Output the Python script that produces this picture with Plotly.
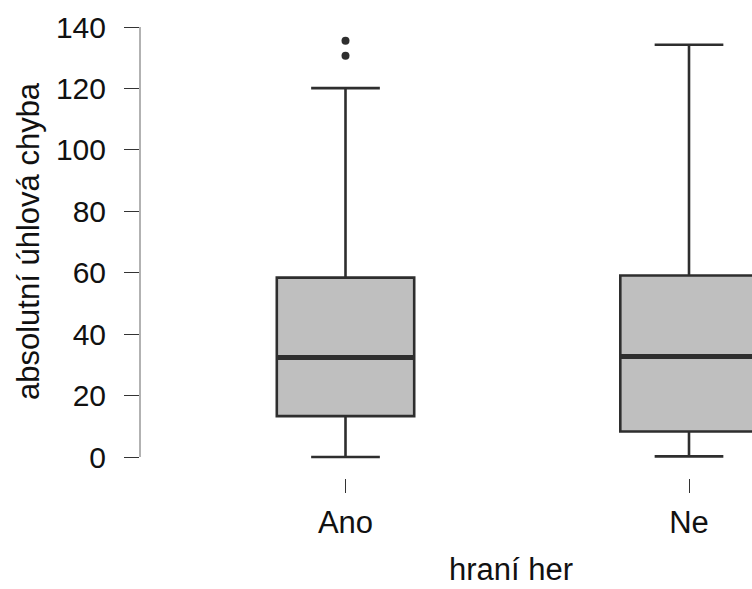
import plotly.graph_objects as go

categories = ["Ano", "Ne"]
positions = [1, 2]
q1 = [13.3, 8.3]
median = [32.4, 32.7]
q3 = [58.4, 59.1]
lower_whisker = [0.0, 0.2]
upper_whisker = [120.1, 134.2]
outlier_x = [1, 1]
outlier_y = [135.5, 130.6]
y_ticks = [0, 20, 40, 60, 80, 100, 120, 140]

BOX_W = 0.4
FONT = "Liberation Sans, Arial, sans-serif"
DARK = "#2e2e2e"

fig = go.Figure()
for i, c in enumerate(categories):
    fig.add_trace(go.Box(
        x=[positions[i]], q1=[q1[i]], median=[median[i]], q3=[q3[i]],
        lowerfence=[lower_whisker[i]], upperfence=[upper_whisker[i]],
        width=BOX_W, whiskerwidth=0.5, boxpoints=False,
        fillcolor="#bfbfbf", line=dict(color=DARK, width=2.6),
        name=c, showlegend=False, hoverinfo="skip",
    ))
    fig.add_trace(go.Scatter(
        x=[positions[i] - BOX_W / 2, positions[i] + BOX_W / 2],
        y=[median[i], median[i]], mode="lines",
        line=dict(color=DARK, width=5), showlegend=False, hoverinfo="skip",
    ))

fig.add_trace(go.Scatter(
    x=outlier_x, y=outlier_y, mode="markers",
    marker=dict(color=DARK, size=8), showlegend=False, hoverinfo="skip",
    cliponaxis=False,
))

W, H = 752, 589
L, R, T, B = 140, 0, 10, 111
px_per_unit_y = 430 / 140
y_top = 140 + 17 / px_per_unit_y
y_bot = -(478 - 457) / px_per_unit_y
px_per_unit_x = 343.5
x_left = 1 - (345.5 - 140) / px_per_unit_x
x_right = 2 + (752 - 689) / px_per_unit_x

fig.update_layout(
    width=W, height=H,
    margin=dict(l=L, r=R, t=T, b=B),
    plot_bgcolor="white", paper_bgcolor="white",
    font=dict(family=FONT, size=30, color="#111"),
    xaxis=dict(
        range=[x_left, x_right], tickmode="array", tickvals=positions,
        ticktext=categories, ticks="outside", ticklen=14, tickwidth=1,
        tickcolor="#333", showline=False, showgrid=False, zeroline=False,
        tickfont=dict(size=31, family=FONT, color="#111"),
        ticklabelstandoff=3,
    ),
    yaxis=dict(
        range=[y_bot, y_top], tickmode="array", tickvals=y_ticks,
        ticks="outside", ticklen=15, tickwidth=1.3, tickcolor="#333",
        showline=False, showgrid=False, zeroline=False,
        tickfont=dict(size=30, family=FONT, color="#111"),
        ticklabelstandoff=12,
    ),
    shapes=[dict(type="line", xref="paper", yref="y", x0=0, x1=0,
                 y0=y_ticks[0], y1=y_ticks[-1],
                 line=dict(color="#999", width=1.5))],
    annotations=[
        dict(text="absolutní úhlová chyba", xref="paper", yref="paper",
             x=(28 - L) / (W - L - R), y=1 - (241 - T) / (H - T - B),
             xanchor="center", yanchor="middle", textangle=-90,
             showarrow=False, font=dict(size=31, family=FONT, color="#111")),
        dict(text="hraní her", xref="paper", yref="paper",
             x=(511 - L) / (W - L - R), y=-(589 - (H - B)) / (H - T - B),
             xanchor="center", yanchor="bottom",
             showarrow=False, font=dict(size=31, family=FONT, color="#111")),
    ],
)

fig.write_html("out.html")
